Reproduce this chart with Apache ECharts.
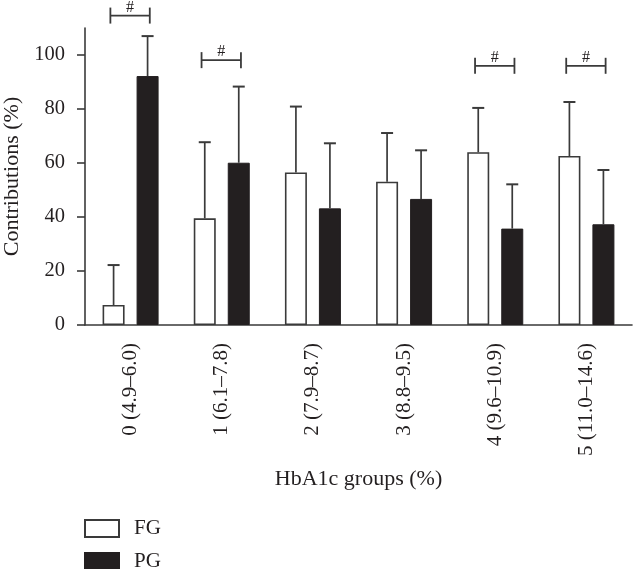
<!DOCTYPE html>
<html>
<head>
<meta charset="utf-8">
<script src="https://cdn.jsdelivr.net/npm/echarts@6/dist/echarts.min.js"></script>
<style>
html,body{margin:0;padding:0;background:#fff;}
#c{width:634px;height:569px;}
</style>
</head>
<body>
<div id="c"></div>
<script>
const categories = ['0 (4.9–6.0)', '1 (6.1–7.8)', '2 (7.9–8.7)', '3 (8.8–9.5)', '4 (9.6–10.9)', '5 (11.0–14.6)'];
const fgMean = [7.4, 39.5, 56.5, 53.1, 64.0, 62.6];
const fgErr = [14.8, 28.2, 24.4, 18.0, 16.4, 20.0];
const pgMean = [92.2, 60.1, 43.2, 46.7, 35.7, 37.3];
const pgErr = [14.8, 28.2, 24.1, 18.0, 16.4, 20.1];
const sigGroups = [0, 1, 4, 5];
const sigLevel = [114.6, 98.1, 96.0, 96.0];
const sigMark = '#';
const yTicks = [0, 20, 40, 60, 80, 100];

const FONT = '"Liberation Serif", "DejaVu Serif", serif';
const AX = '#3a3a3a';
const TXT = '#231f20';
const BAR_W = 22;
const BAR_GAP = 12;
const OFF = (BAR_W + BAR_GAP) / 2;

function errItem(offset) {
  return function (params, api) {
    const i = api.value(0);
    const top = api.coord([i, api.value(1)]);
    const end = api.coord([i, api.value(1) + api.value(2)]);
    const x = top[0] + offset;
    return {
      type: 'group',
      children: [
        { type: 'line', shape: { x1: x, y1: top[1], x2: x, y2: end[1] }, style: { stroke: AX, lineWidth: 1.7 } },
        { type: 'line', shape: { x1: x - 6, y1: end[1], x2: x + 6, y2: end[1] }, style: { stroke: AX, lineWidth: 2 } }
      ]
    };
  };
}

function sigItem(params, api) {
  const p = api.coord([api.value(0), api.value(1)]);
  const cx = p[0] - 0.5, y = p[1];
  const hw = 19.7;
  return {
    type: 'group',
    children: [
      { type: 'line', shape: { x1: cx - hw, y1: y, x2: cx + hw, y2: y }, style: { stroke: AX, lineWidth: 1.8 } },
      { type: 'line', shape: { x1: cx - hw, y1: y - 8, x2: cx - hw, y2: y + 8 }, style: { stroke: AX, lineWidth: 1.8 } },
      { type: 'line', shape: { x1: cx + hw, y1: y - 8, x2: cx + hw, y2: y + 8 }, style: { stroke: AX, lineWidth: 1.8 } },
      { type: 'text', style: { x: cx, y: y - 8, text: sigMark, fill: TXT, font: '16px ' + FONT, align: 'center', verticalAlign: 'middle' } }
    ]
  };
}

const legendBase = {
  orient: 'vertical',
  left: 84,
  padding: 0,
  itemWidth: 34, itemHeight: 17,
  icon: 'rect',
  textStyle: { fontFamily: FONT, fontSize: 21, color: TXT, padding: [0, 0, 0, 10] }
};

const chart = echarts.init(document.getElementById('c'));
chart.setOption({
  animation: false,
  backgroundColor: '#fff',
  grid: { left: 85, right: 2, top: 28, bottom: 244, outerBoundsMode: 'none', containLabel: false },
  legend: [
    Object.assign({}, legendBase, { data: ['FG'], top: 518 }),
    Object.assign({}, legendBase, { data: ['PG'], top: 551 })
  ],
  xAxis: {
    type: 'category',
    data: categories,
    boundaryGap: true,
    name: 'HbA1c groups (%)',
    nameLocation: 'middle',
    nameGap: 143,
    nameTextStyle: { fontFamily: FONT, fontSize: 22, color: TXT },
    axisLine: { lineStyle: { color: AX, width: 1.6 } },
    axisTick: { alignWithLabel: true, length: 7, lineStyle: { color: AX, width: 1.6 } },
    axisLabel: { rotate: 90, margin: 18, fontFamily: FONT, fontSize: 21, color: TXT }
  },
  yAxis: {
    type: 'value',
    min: 0, max: 110, interval: 20,
    name: 'Contributions (%)',
    nameLocation: 'middle',
    nameGap: 62,
    nameRotate: 90,
    nameTextStyle: { fontFamily: FONT, fontSize: 22, color: TXT },
    splitLine: { show: false },
    axisLine: { show: true, lineStyle: { color: AX, width: 1.6 } },
    axisTick: { show: true, length: 8, customValues: yTicks, lineStyle: { color: AX, width: 1.6 } },
    axisLabel: { margin: 20, customValues: yTicks, fontFamily: FONT, fontSize: 20.5, color: TXT }
  },
  series: [
    {
      name: 'FG', type: 'bar', data: fgMean, barWidth: BAR_W, barGap: (BAR_GAP / BAR_W * 100) + '%',
      itemStyle: { color: '#ffffff', borderColor: AX, borderWidth: 1.6 }
    },
    {
      name: 'PG', type: 'bar', data: pgMean, barWidth: BAR_W,
      itemStyle: { color: '#231f20', borderColor: '#231f20', borderWidth: 1 }
    },
    {
      name: 'FG err', type: 'custom', renderItem: errItem(-OFF), z: 5,
      encode: { x: 0, y: 1 },
      data: fgMean.map((m, i) => [i, m, fgErr[i]])
    },
    {
      name: 'PG err', type: 'custom', renderItem: errItem(OFF), z: 5,
      encode: { x: 0, y: 1 },
      data: pgMean.map((m, i) => [i, m, pgErr[i]])
    },
    {
      name: 'sig', type: 'custom', renderItem: sigItem, z: 6, clip: false,
      encode: { x: 0, y: 1 },
      data: sigGroups.map((g, k) => [g, sigLevel[k]])
    }
  ]
});
</script>
</body>
</html>
